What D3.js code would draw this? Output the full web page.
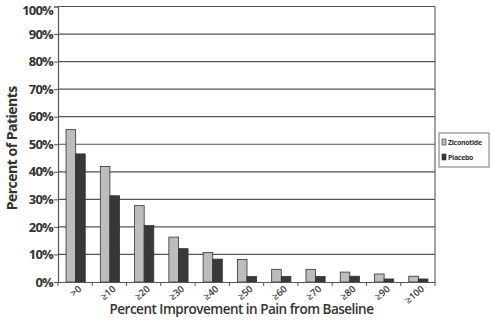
<!DOCTYPE html>
<html><head><meta charset="utf-8">
<script src="https://cdn.jsdelivr.net/npm/d3@7"></script>
<style>
body{margin:0;background:#fff;}
text{font-family:"Open Sans",sans-serif;}
</style></head>
<body><svg id="c" width="492" height="323"></svg>
<script>
const categories = [">0","≥10","≥20","≥30","≥40","≥50","≥60","≥70","≥80","≥90","≥100"];
const ziconotide = [55.3,41.9,27.7,16.3,10.7,8.2,4.6,4.6,3.6,2.9,2.1];
const placebo    = [46.5,31.3,20.5,12.1,8.3,2.0,2.0,2.0,2.1,1.1,1.1];
const seriesNames = ["Ziconotide","Placebo"];
const yTicks = [0,10,20,30,40,50,60,70,80,90,100];

const svg = d3.select("#c");
const m = {l:58, r:435, t:6.5, b:282};
const x = d3.scaleBand().domain(categories).range([m.l, m.r]).paddingInner(0.44).paddingOuter(0.22);
const y = d3.scaleLinear().domain([0,100]).range([m.b, m.t]);

// gridlines
svg.append("g").selectAll("line").data(yTicks.filter(d=>d>0)).join("line")
  .attr("x1", m.l).attr("x2", m.r).attr("y1", d=>y(d)).attr("y2", d=>y(d))
  .attr("stroke","#555").attr("stroke-width",1.2);
// right border
svg.append("line").attr("x1",m.r).attr("x2",m.r).attr("y1",m.t).attr("y2",m.b)
  .attr("stroke","#666").attr("stroke-width",1.2);

// bars
const series = [ziconotide, placebo];
const colors = ["#bdbdbd","#383838"];
const bw = x.bandwidth()/2;
series.forEach((s,i)=>{
  svg.append("g").selectAll("rect").data(s).join("rect")
    .attr("x",(d,j)=>x(categories[j]) + i*bw + 0.5)
    .attr("y",d=>y(d)).attr("width",bw).attr("height",d=>y(0)-y(d))
    .attr("fill",colors[i]).attr("stroke","#333").attr("stroke-width",0.8);
});

// y axis
const ya = svg.append("g").attr("transform",`translate(${m.l},0)`)
  .call(d3.axisLeft(y).tickValues(yTicks).tickFormat(d=>d+"%").tickSize(4).tickPadding(1));
ya.select(".domain").attr("stroke","#555").attr("stroke-width",1.2);
ya.selectAll(".tick line").attr("stroke","#555");
ya.selectAll("text").attr("font-size",13).attr("font-weight",700).attr("fill","#333")
  .attr("letter-spacing","-0.8").attr("dy",d=>d===100?"0.62em":"0.32em");

// x axis
const xa = svg.append("g").attr("transform",`translate(0,${m.b})`)
  .call(d3.axisBottom(x).tickSize(0).tickPadding(0));
xa.select(".domain").attr("stroke","#555").attr("stroke-width",1.2);
xa.selectAll(".tick text").attr("font-size",9.5).attr("font-weight",600).attr("fill","#333")
  .attr("text-anchor","end").attr("y",0).attr("dy",0)
  .attr("transform","translate(7,8) rotate(-40)");
// category boundary ticks
svg.append("g").selectAll("line").data(d3.range(categories.length+1)).join("line")
  .attr("x1",d=>m.l + d*(m.r-m.l)/categories.length).attr("x2",d=>m.l + d*(m.r-m.l)/categories.length)
  .attr("y1",m.b).attr("y2",m.b+4).attr("stroke","#555");

// axis titles
svg.append("text").attr("x",(m.l+m.r)/2-5).attr("y",314).attr("text-anchor","middle")
  .attr("font-size",13.5).attr("font-weight",600).attr("fill","#333").attr("letter-spacing","-0.5")
  .text("Percent Improvement in Pain from Baseline");
svg.append("text").attr("transform",`translate(17,${(m.t+m.b)/2+4}) rotate(-90)`).attr("text-anchor","middle")
  .attr("font-size",14).attr("font-weight",700).attr("fill","#333").attr("letter-spacing","-0.5")
  .text("Percent of Patients");

// legend
const lg = svg.append("g").attr("transform","translate(439,133)");
lg.append("rect").attr("width",50).attr("height",34).attr("fill","#fff").attr("stroke","#777");
seriesNames.forEach((n,i)=>{
  lg.append("rect").attr("x",3).attr("y",6+i*15).attr("width",4).attr("height",6)
    .attr("fill",colors[i]).attr("stroke","#333").attr("stroke-width",0.6);
  lg.append("text").attr("x",9).attr("y",12+i*15).attr("font-size",7).attr("font-weight",700)
    .attr("fill","#333").attr("letter-spacing","-0.3").text(n);
});
</script></body></html>
